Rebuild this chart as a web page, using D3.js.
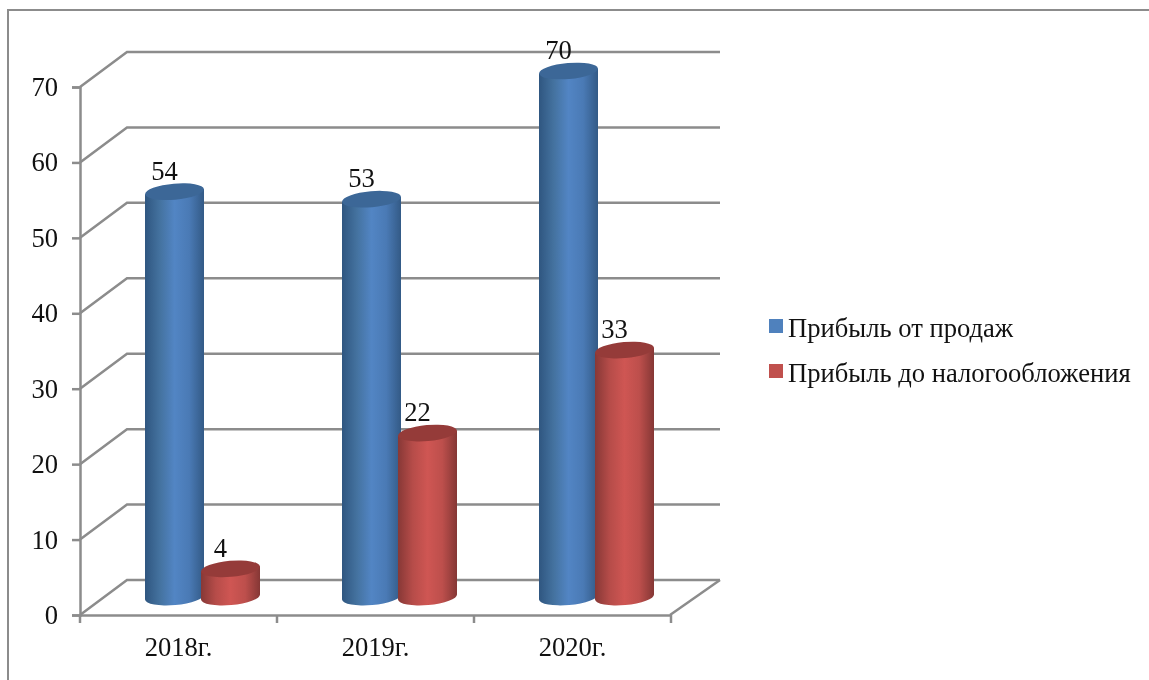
<!DOCTYPE html>
<html>
<head>
<meta charset="utf-8">
<script src="https://cdn.jsdelivr.net/npm/d3@7"></script>
<style>
  html, body { margin: 0; padding: 0; background: #fff; }
  svg { display: block; filter: blur(0.35px); }
  text { font-family: "Liberation Serif", serif; fill: #111; }
</style>
</head>
<body>
<svg id="chart" width="1149" height="680"></svg>
<script>
const years = ["2018г.", "2019г.", "2020г."];
const seriesNames = ["Прибыль от продаж", "Прибыль до налогообложения"];
const salesProfit = [54, 53, 70];
const pretaxProfit = [4, 22, 33];
const yTicks = [0, 10, 20, 30, 40, 50, 60, 70];

const svg = d3.select("#chart");
const gridColor = "#8c8c8c";
const fontSize = "26.6px";
const depth = { x: 47, y: -35 };
const cylinderRx = 29.5, cylinderRy = 8;
const tilt = -5, tiltDrop = 2.6;

const x = d3.scaleBand().domain(years).range([80, 671]);
const y = d3.scaleLinear().domain([0, 70]).range([615, 87]);
const inner = d3.scaleBand().domain(seriesNames).range([66.5, 178.5]);
const baseY = y(0) - 18;

const palette = [
  { id: "blueBar", stops: ["#2f5680", "#44729f", "#5285c4", "#4a7ab5", "#335a86"], top: "#3c6797", legend: "#4f81bd" },
  { id: "redBar", stops: ["#873836", "#b64c49", "#cf5653", "#bd4f4c", "#853735"], top: "#953b39", legend: "#c0504d" }
];

const defs = svg.append("defs");
palette.forEach(p => {
  const grad = defs.append("linearGradient").attr("id", p.id);
  p.stops.forEach((c, i) => {
    grad.append("stop").attr("offset", `${[0, 25, 50, 75, 100][i]}%`).attr("stop-color", c);
  });
});

// outer chart frame, runs off the picture on the right and bottom
svg.append("rect")
  .attr("x", 8).attr("y", 10)
  .attr("width", 1400).attr("height", 900)
  .attr("fill", "none")
  .attr("stroke", "#8c8c8c")
  .attr("stroke-width", 2);

// back wall grid and the slanted side lines
const grid = svg.append("g").attr("stroke", gridColor).attr("stroke-width", 2.5).attr("fill", "none");
yTicks.forEach(t => {
  grid.append("path")
    .attr("d", `M${x.range()[0]},${y(t)}L${x.range()[0] + depth.x},${y(t) + depth.y}H${x.range()[1] + depth.x + 2}`);
});
grid.append("path")
  .attr("d", `M${x.range()[1] - 1},${y(0)}L${x.range()[1] + depth.x + 2},${y(0) + depth.y}`);

// Y Axis
const yAxis = svg.append("g")
  .attr("transform", `translate(${x.range()[0]},0)`)
  .call(d3.axisLeft(y).tickValues(yTicks).tickSize(8).tickPadding(14));
yAxis.select(".domain").attr("stroke", gridColor).attr("stroke-width", 2.5);
yAxis.selectAll("line").attr("stroke", gridColor).attr("stroke-width", 2.5);
yAxis.selectAll("text").style("font-size", fontSize).style("font-family", "Liberation Serif").attr("fill", "#111");

// X Axis
const xAxis = svg.append("g")
  .attr("transform", `translate(0,${y(0)})`)
  .call(d3.axisBottom(x).tickSize(0).tickPadding(22));
xAxis.select(".domain").attr("stroke", gridColor).attr("stroke-width", 2.5);
xAxis.selectAll("text").style("font-size", fontSize).style("font-family", "Liberation Serif").attr("fill", "#111");
svg.append("g").attr("stroke", gridColor).attr("stroke-width", 2.5)
  .selectAll("line")
  .data(d3.range(years.length + 1))
  .join("line")
  .attr("x1", i => x.range()[0] + i * x.step())
  .attr("x2", i => x.range()[0] + i * x.step())
  .attr("y1", y(0))
  .attr("y2", y(0) + 8);

// Cylinders
[salesProfit, pretaxProfit].forEach((values, s) => {
  const p = palette[s];
  const g = svg.append("g").attr("class", "series");
  years.forEach((year, i) => {
    const cx = x(year) + inner(seriesNames[s]) + inner.bandwidth() / 2;
    const topY = baseY + (y(values[i]) - y(0)) + 2;
    const left = cx - cylinderRx, right = cx + cylinderRx;
    g.append("path")
      .attr("d", `M${left},${topY + tiltDrop}V${baseY + tiltDrop}A${cylinderRx},${cylinderRy} ${tilt} 0 0 ${right},${baseY - tiltDrop}V${topY - tiltDrop}Z`)
      .attr("fill", `url(#${p.id})`);
    g.append("ellipse")
      .attr("cx", cx).attr("cy", topY)
      .attr("rx", cylinderRx).attr("ry", cylinderRy)
      .attr("transform", `rotate(${tilt} ${cx} ${topY})`)
      .attr("fill", p.top);
    g.append("text")
      .attr("x", cx - 10)
      .attr("y", topY - 12)
      .attr("text-anchor", "middle")
      .style("font-size", fontSize)
      .text(values[i]);
  });
});

// Legend
const legend = svg.append("g");
seriesNames.forEach((name, i) => {
  legend.append("rect")
    .attr("x", 769).attr("y", 319 + i * 45)
    .attr("width", 14).attr("height", 14)
    .attr("fill", palette[i].legend);
  legend.append("text")
    .attr("x", 788).attr("y", 337 + i * 45)
    .style("font-size", fontSize)
    .text(name);
});
</script>
</body>
</html>
